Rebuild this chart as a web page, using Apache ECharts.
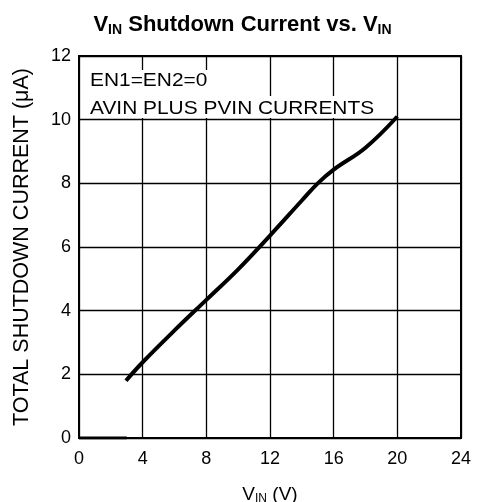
<!DOCTYPE html>
<html>
<head>
<meta charset="utf-8">
<script src="https://cdn.jsdelivr.net/npm/echarts@6/dist/echarts.min.js"></script>
<style>
  html, body { margin: 0; padding: 0; background: #fff; }
  #chart { width: 485px; height: 502px; }
</style>
</head>
<body>
<div id="chart"></div>
<script>
// axis ticks
const xTicks = [0, 4, 8, 12, 16, 20, 24]
const yTicks = [0, 2, 4, 6, 8, 10, 12]

// below UVLO the part draws nothing
const offVin = [0, 3.0]
const offCurrent = [0, 0]

// total shutdown current (uA) vs VIN (V)
const vin = [2.95, 4, 6, 8, 10, 12, 14, 15, 16, 18, 20]
const current = [1.8, 2.38, 3.38, 4.34, 5.3, 6.36, 7.46, 8.0, 8.43, 9.12, 10.1]

const font = "'Liberation Sans', Arial, Helvetica, sans-serif"

const chart = echarts.init(document.getElementById('chart'))

const option = {
  animation: false,
  title: {
    text: '{m|V}{s|IN}{m| Shutdown Current vs. V}{s|IN}',
    left: 'center',
    top: 8,
    textStyle: {
      rich: {
        m: { fontFamily: font, fontWeight: 'bold', fontSize: 22, color: '#000' },
        s: { fontFamily: font, fontWeight: 'bold', fontSize: 14, color: '#000', padding: [10, 0, 0, 0] }
      }
    }
  },
  grid: {
    left: 79,
    top: 56,
    right: 24,
    bottom: 64,
    outerBoundsMode: 'none',
    show: true,
    borderColor: '#000',
    borderWidth: 2
  },
  xAxis: {
    type: 'value',
    min: xTicks[0],
    max: xTicks[xTicks.length - 1],
    interval: xTicks[1] - xTicks[0],
    name: '{m|V}{s|IN}{m| (V)}',
    nameLocation: 'middle',
    nameGap: 46,
    nameTextStyle: {
      rich: {
        m: { fontFamily: font, fontSize: 19, color: '#000' },
        s: { fontFamily: font, fontSize: 12, color: '#000', padding: [9, 0, 0, 0] }
      }
    },
    axisLine: { lineStyle: { color: '#000', width: 2 } },
    axisTick: { show: false },
    axisLabel: { margin: 12, fontFamily: font, fontSize: 18, color: '#000' },
    splitLine: { lineStyle: { color: '#000', width: 1.3 } }
  },
  yAxis: {
    type: 'value',
    min: yTicks[0],
    max: yTicks[yTicks.length - 1],
    interval: yTicks[1] - yTicks[0],
    name: 'TOTAL SHUTDOWN CURRENT (μA)',
    nameLocation: 'middle',
    nameGap: 46,
    nameTextStyle: { fontFamily: font, fontSize: 21.5, color: '#000' },
    axisLine: { lineStyle: { color: '#000', width: 2 } },
    axisTick: { show: false },
    axisLabel: { margin: 8, fontFamily: font, fontSize: 18, color: '#000' },
    splitLine: { lineStyle: { color: '#000', width: 1.3 } }
  },
  graphic: [
    // white boxes behind the note, they hide the grid lines like in the original
    { type: 'rect', left: 86, top: 70, z: 100, shape: { width: 126, height: 27 }, style: { fill: '#fff' } },
    { type: 'rect', left: 86, top: 96, z: 100, shape: { width: 294, height: 22 }, style: { fill: '#fff' } },
    {
      type: 'text', x: 90, y: 71, z: 101, scaleX: 1.1,
      style: { text: 'EN1=EN2=0', fontFamily: font, fontSize: 19, fill: '#000' }
    },
    {
      type: 'text', x: 90, y: 99, z: 101, scaleX: 1.1,
      style: { text: 'AVIN PLUS PVIN CURRENTS', fontFamily: font, fontSize: 19, fill: '#000' }
    }
  ],
  series: [
    {
      type: 'line',
      data: offVin.map((v, i) => [v, offCurrent[i]]),
      symbol: 'none',
      lineStyle: { color: '#000', width: 3 }
    },
    {
      type: 'line',
      data: vin.map((v, i) => [v, current[i]]),
      symbol: 'none',
      smooth: 0.4,
      lineStyle: { color: '#000', width: 4 }
    }
  ]
}

chart.setOption(option)
</script>
</body>
</html>
